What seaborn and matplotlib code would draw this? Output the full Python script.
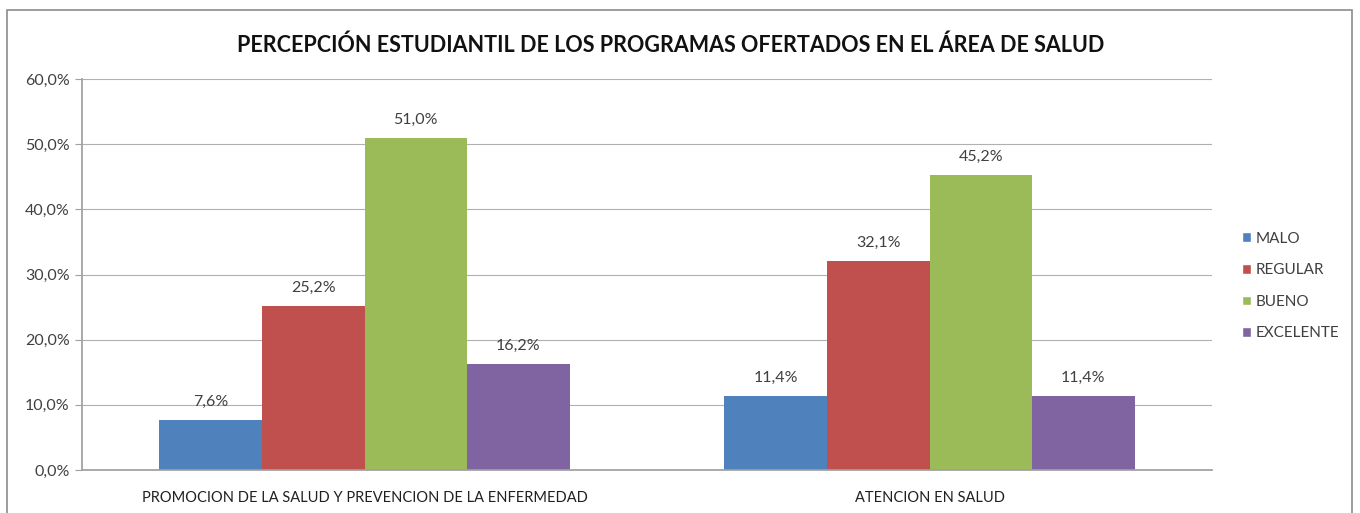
import pandas as pd
import matplotlib.pyplot as plt
import seaborn as sns
from matplotlib.patches import Rectangle, Patch

# data
programas = ["PROMOCION DE LA SALUD Y PREVENCION DE LA ENFERMEDAD", "ATENCION EN SALUD"]
niveles = ["MALO", "REGULAR", "BUENO", "EXCELENTE"]
malo = [7.6, 11.4]
regular = [25.2, 32.1]
bueno = [51.0, 45.2]
excelente = [16.2, 11.4]
colores = ["#4F81BD", "#C0504D", "#9BBB59", "#8064A2"]

rows = []
for nivel, vals in zip(niveles, [malo, regular, bueno, excelente]):
    for prog, v in zip(programas, vals):
        rows.append({"programa": prog, "nivel": nivel, "valor": v})
df = pd.DataFrame(rows)

sns.set_theme(style="white")
plt.rcParams['font.family'] = ['Lato', 'DejaVu Sans']

fig = plt.figure(figsize=(13.6, 5.13), dpi=100)
ax = fig.add_axes([0.0603, 0.0838, 0.8309, 0.7622])

sns.barplot(data=df, x="programa", y="valor", hue="nivel", order=programas,
            hue_order=niveles, palette=colores, width=0.726, saturation=1,
            linewidth=0, legend=False, ax=ax)

for cont in ax.containers:
    ax.bar_label(cont, labels=[f"{b.get_height():.1f}%".replace(".", ",") for b in cont],
                 padding=8, fontsize=11.5, color="#404040")

ax.set_ylim(0, 60)
ax.set_yticks(range(0, 61, 10))
ax.set_yticklabels([f"{t:.1f}%".replace(".", ",") for t in range(0, 61, 10)],
                   fontsize=11.5, color="#404040")
ax.tick_params(axis="x", labelsize=10.5, labelcolor="#202020", length=0, pad=15)
ax.tick_params(axis="y", length=5, width=0.8, color="#A0A0A0", left=True, pad=4)
ax.set_xlabel("")
ax.set_ylabel("")
ax.yaxis.grid(True, color="#B0B0B0", linewidth=0.8)
ax.set_axisbelow(True)
for s in ["top", "right"]:
    ax.spines[s].set_visible(False)
ax.spines["left"].set_color("#A0A0A0")
ax.spines["bottom"].set_color("#A0A0A0")

handles = [Patch(facecolor=c, label=n) for c, n in zip(colores, niveles)]
fig.legend(handles=handles, loc="center left", bbox_to_anchor=(0.903, 0.4425),
           frameon=False, fontsize=11, handlelength=0.6, handleheight=0.6,
           handletextpad=0.3, labelspacing=1.15, labelcolor="#404040")

fig.text(0.493, 0.912, "PERCEPCIÓN ESTUDIANTIL DE LOS PROGRAMAS OFERTADOS EN EL ÁREA DE SALUD",
         ha="center", va="center", fontsize=15.5, fontweight="bold", color="#111111")

# outer chart frame
fig.add_artist(Rectangle((7 / 1360, -0.05), 1345 / 1360, 1 - 10 / 513 + 0.05,
                         transform=fig.transFigure, fill=False,
                         edgecolor="#8C8C8C", linewidth=1.2))

fig.savefig("out.png", dpi=100)
